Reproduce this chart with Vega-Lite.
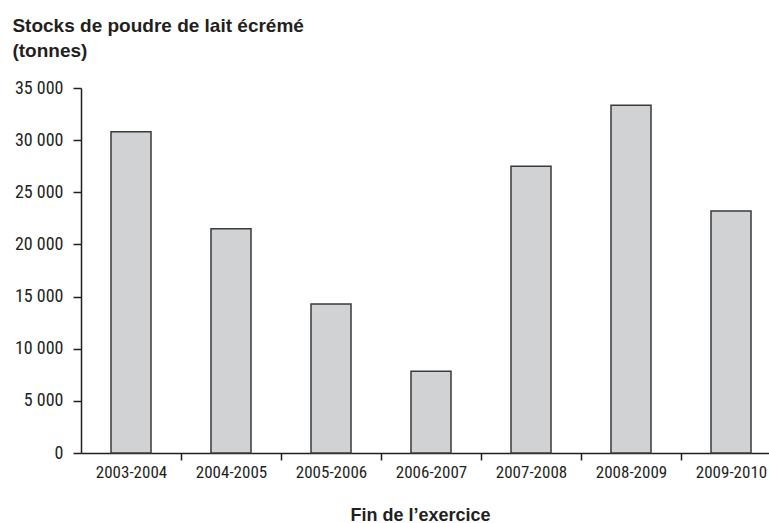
{
  "$schema": "https://vega.github.io/schema/vega-lite/v6.json",
  "width": 700,
  "height": 365,
  "autosize": {"type": "pad"},
  "padding": {"left": 12, "top": 17, "right": 0, "bottom": 0},
  "background": "white",
  "title": {
    "text": ["Stocks de poudre de lait écrémé", "(tonnes)"],
    "anchor": "start",
    "frame": "bounds",
    "dx": -2,
    "font": "Liberation Sans, Arial, sans-serif",
    "fontSize": 19,
    "fontWeight": "bold",
    "color": "#231f20",
    "lineHeight": 25,
    "offset": 18
  },
  "data": {
    "values": [
      {"exercice": "2003-2004", "stocks": 30800},
      {"exercice": "2004-2005", "stocks": 21500},
      {"exercice": "2005-2006", "stocks": 14280},
      {"exercice": "2006-2007", "stocks": 7850},
      {"exercice": "2007-2008", "stocks": 27500},
      {"exercice": "2008-2009", "stocks": 33350},
      {"exercice": "2009-2010", "stocks": 23200}
    ]
  },
  "mark": {"type": "bar", "fill": "#d1d2d4", "stroke": "#3a3a3a", "strokeWidth": 1.5},
  "encoding": {
    "x": {
      "field": "exercice",
      "type": "nominal",
      "sort": null,
      "scale": {"paddingInner": 0.6, "paddingOuter": 0.3},
      "axis": {
        "title": "Fin de l’exercice",
        "titleFont": "Liberation Sans, Arial, sans-serif",
        "titleFontSize": 18,
        "titleFontWeight": "bold",
        "titleColor": "#231f20",
        "titleX": 339,
        "titlePadding": 26,
        "labelAngle": 0,
        "labelFont": "Liberation Sans Narrow, Roboto Condensed, DejaVu Sans Condensed, sans-serif",
        "labelFontSize": 17,
        "labelColor": "#231f20",
        "labelPadding": 4,
        "bandPosition": 1,
        "tickOffset": 30,
        "labelOffset": -30,
        "tickSize": 7,
        "tickWidth": 1.5,
        "tickColor": "#231f20",
        "domainColor": "#231f20",
        "domainWidth": 1.5
      }
    },
    "y": {
      "field": "stocks",
      "type": "quantitative",
      "scale": {"domain": [0, 35000], "nice": false},
      "axis": {
        "title": null,
        "values": [0, 5000, 10000, 15000, 20000, 25000, 30000, 35000],
        "labelExpr": "replace(format(datum.value, ','), ',', ' ')",
        "labelFont": "Liberation Sans Narrow, Roboto Condensed, DejaVu Sans Condensed, sans-serif",
        "labelFontSize": 18,
        "labelColor": "#231f20",
        "labelPadding": 10,
        "tickSize": 8,
        "tickWidth": 1.5,
        "tickColor": "#231f20",
        "domainColor": "#231f20",
        "domainWidth": 1.5,
        "grid": false
      }
    }
  },
  "config": {"view": {"stroke": null}}
}
